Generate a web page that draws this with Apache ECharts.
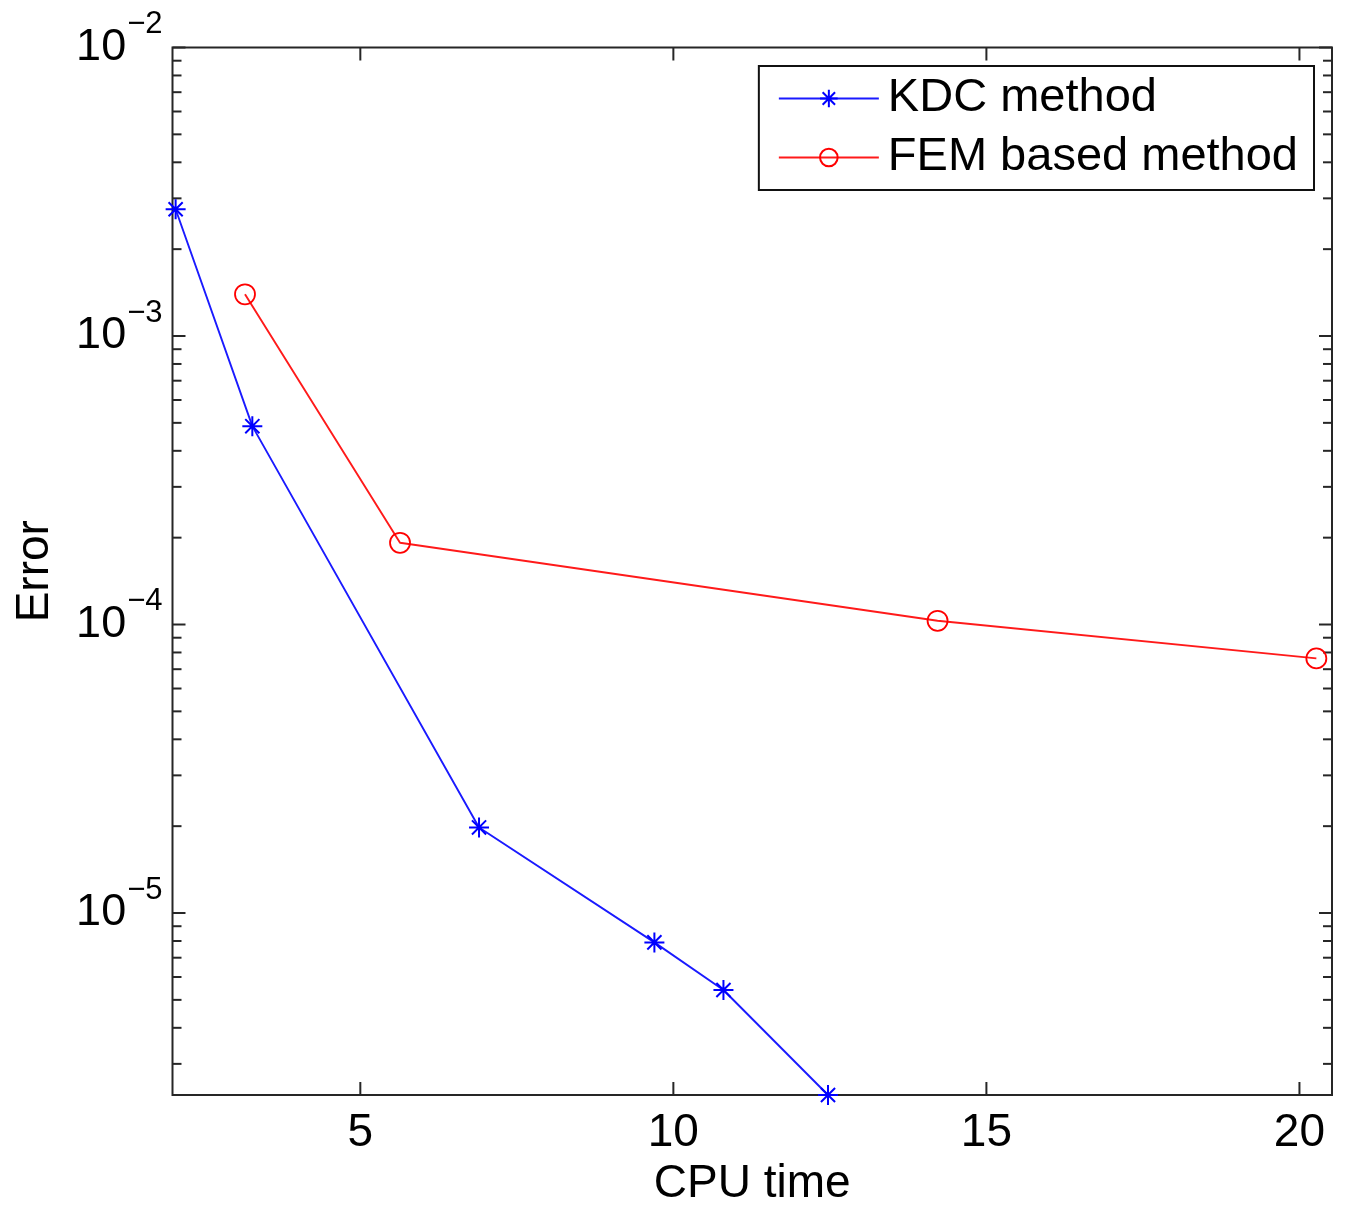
<!DOCTYPE html>
<html>
<head>
<meta charset="utf-8">
<script src="https://cdn.jsdelivr.net/npm/echarts@6/dist/echarts.min.js"></script>
<style>
html,body{margin:0;padding:0;background:#fff;}
#chart{width:1347px;height:1207px;}
</style>
</head>
<body>
<div id="chart"></div>
<script>
// ---- data ----
const kdcTime  = [2.05, 3.275, 6.896, 9.697, 10.80, 12.47];
const kdcError = [2.75e-3, 4.87e-4, 1.98e-5, 7.91e-6, 5.41e-6, 2.34e-6];
const femTime  = [3.158, 5.634, 14.22, 20.27];
const femError = [1.395e-3, 1.92e-4, 1.03e-4, 7.63e-5];
const seriesNames = ['KDC method', 'FEM based method'];
const xTickLabels = [5, 10, 15, 20];
const yDecadeExponents = [-6, -5, -4, -3, -2];
const xRange = [2, 20.52];
const yRange = [2.34e-6, 1e-2];

// tick marks (MATLAB-style: major + minor on all four sides)
const tickData = [];
yDecadeExponents.forEach(function (e) {
  for (let m = 1; m <= 9; m++) {
    const v = m * Math.pow(10, e);
    if (v >= yRange[0] * 0.9999 && v <= yRange[1] * 1.0001) {
      tickData.push([xRange[0], v, 0, m === 1 ? 1 : 0]);
    }
  }
});
xTickLabels.forEach(function (t) { tickData.push([t, yRange[1], 1, 1]); });

const asterisk = 'path://M0,-10L0,10M-10,0L10,0M-7.07,-7.07L7.07,7.07M-7.07,7.07L7.07,-7.07';
const FONT = 'Liberation Sans, Arial, Helvetica, sans-serif';

const chart = echarts.init(document.getElementById('chart'), null, {renderer: 'canvas'});
chart.setOption({
  animation: false,
  backgroundColor: '#fff',
  grid: {
    left: 172.5, right: 15, top: 47.5, bottom: 112,
    containLabel: false,
    outerBoundsMode: 'none',
    show: true, borderColor: '#262626', borderWidth: 2, backgroundColor: 'transparent'
  },
  legend: {
    data: seriesNames,
    orient: 'vertical',
    right: 33, top: 66,
    padding: [9, 16, 9, 19],
    itemGap: 12,
    itemWidth: 100,
    itemHeight: 22,
    borderColor: '#111',
    borderWidth: 2,
    backgroundColor: '#fff',
    textStyle: {fontFamily: FONT, fontSize: 47, color: '#000', padding: [0, 0, 0, 4]}
  },
  xAxis: {
    type: 'value',
    min: xRange[0], max: xRange[1],
    splitNumber: 4,
    name: 'CPU time',
    nameLocation: 'middle',
    nameGap: 65,
    nameTextStyle: {fontFamily: FONT, fontSize: 46, color: '#000'},
    axisLine: {show: false},
    axisTick: {show: false},
    splitLine: {show: false},
    axisLabel: {
      fontFamily: FONT, fontSize: 46, color: '#000', margin: 15,
      showMinLabel: false, showMaxLabel: false,
      formatter: function (v) { return xTickLabels.indexOf(Math.round(v)) >= 0 && Math.abs(v - Math.round(v)) < 1e-6 ? String(Math.round(v)) : ''; }
    }
  },
  yAxis: {
    type: 'log',
    logBase: 10,
    min: yRange[0], max: yRange[1],
    name: 'Error',
    nameLocation: 'middle',
    nameGap: 114,
    nameTextStyle: {fontFamily: FONT, fontSize: 46, color: '#000'},
    axisLine: {show: false},
    axisTick: {show: false},
    splitLine: {show: false},
    axisLabel: {
      margin: 10,
      showMinLabel: false,
      formatter: function (v) {
        const e = Math.log10(v);
        if (Math.abs(e - Math.round(e)) > 1e-6) return '';
        const r = Math.round(e);
        return '{base|10}{sup|' + (r < 0 ? '\u2212' + (-r) : r) + '}';
      },
      rich: {
        base: {fontFamily: FONT, fontSize: 45, color: '#000', verticalAlign: 'middle', lineHeight: 46},
        sup: {fontFamily: FONT, fontSize: 31, color: '#000', verticalAlign: 'middle', lineHeight: 31, padding: [0, 0, 46, 1]}
      }
    }
  },
  series: [
    {
      name: seriesNames[0],
      type: 'line',
      data: kdcTime.map(function (t, i) { return [t, kdcError[i]]; }),
      symbol: asterisk,
      symbolSize: 20,
      lineStyle: {color: '#1a1aff', width: 1.9},
      itemStyle: {color: 'none', borderColor: '#0000ff', borderWidth: 2},
      clip: false,
      z: 3
    },
    {
      name: seriesNames[1],
      type: 'line',
      data: femTime.map(function (t, i) { return [t, femError[i]]; }),
      symbol: 'circle',
      symbolSize: 20,
      lineStyle: {color: '#ff1a1a', width: 1.9},
      itemStyle: {color: 'rgba(0,0,0,0)', borderColor: '#ff0000', borderWidth: 1.8},
      clip: false,
      z: 3
    },
    {
      name: 'ticks',
      type: 'custom',
      coordinateSystem: 'cartesian2d',
      silent: true,
      clip: false,
      z: 1,
      data: tickData,
      renderItem: function (params, api) {
        const cs = params.coordSys;
        const kind = api.value(2);
        const len = api.value(3) ? 13 : 9;
        const p = api.coord([api.value(0), api.value(1)]);
        const st = {stroke: '#262626', lineWidth: 2};
        if (kind === 0) {
          const y = p[1];
          return {type: 'group', children: [
            {type: 'line', shape: {x1: cs.x, y1: y, x2: cs.x + len, y2: y}, style: st},
            {type: 'line', shape: {x1: cs.x + cs.width - len, y1: y, x2: cs.x + cs.width, y2: y}, style: st}
          ]};
        } else {
          const x = p[0];
          return {type: 'group', children: [
            {type: 'line', shape: {x1: x, y1: cs.y + cs.height, x2: x, y2: cs.y + cs.height - len}, style: st},
            {type: 'line', shape: {x1: x, y1: cs.y, x2: x, y2: cs.y + len}, style: st}
          ]};
        }
      }
    }
  ]
});
</script>
</body>
</html>
